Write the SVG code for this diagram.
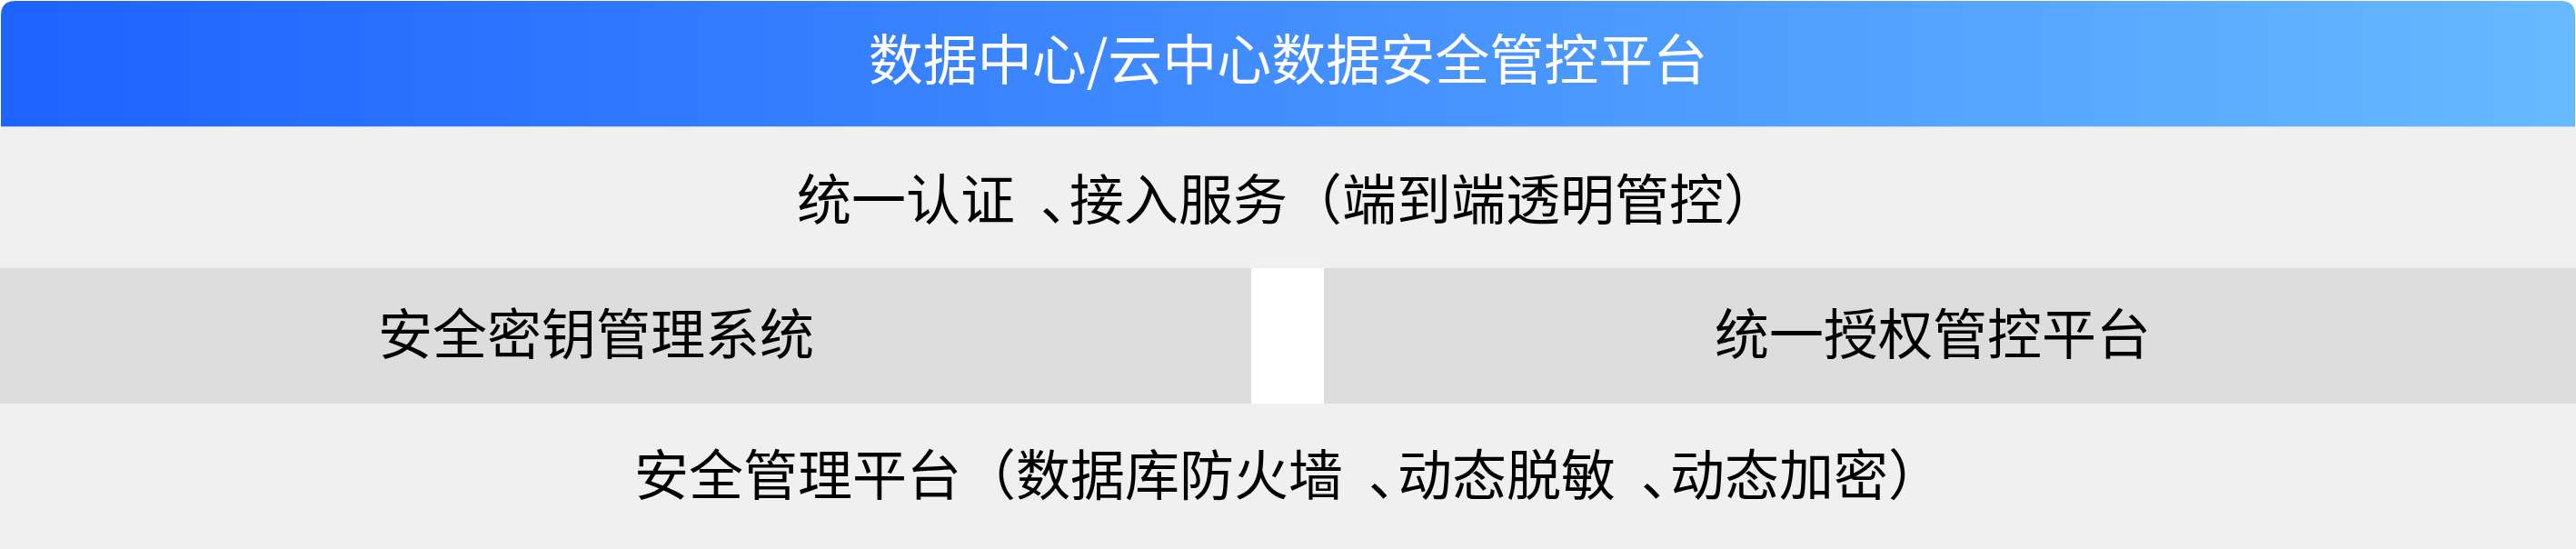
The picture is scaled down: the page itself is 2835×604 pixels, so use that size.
<svg xmlns="http://www.w3.org/2000/svg" width="2835" height="604" viewBox="0 0 2835 604">
  <defs>
    <linearGradient id="hdrGrad" x1="0" y1="0" x2="1" y2="0">
      <stop offset="0" stop-color="#1E63FF"/>
      <stop offset="1" stop-color="#67B9FF"/>
    </linearGradient>
  </defs>
  <style>
    .lbl { font-family: "Noto Sans CJK SC", "Noto Sans", sans-serif; font-size: 60px; text-anchor: middle; fill: #000000; }
    .hdr { fill: #FFFFFF; }
    .light { fill: #F0F0F0; }
    .dark { fill: #DDDDDD; }
  </style>
  <rect x="0" y="0" width="2835" height="604" fill="#FFFFFF"/>

  <g id="header">
    <path d="M1,139 V17 Q1,1 17,1 H2818 Q2834,1 2834,17 V139 Z" fill="url(#hdrGrad)"/>
    <line x1="1" y1="139.5" x2="2834" y2="139.5" stroke="#C9DDF5" stroke-width="1"/>
    <text class="lbl hdr" x="1417.5" y="88">数据中心/云中心数据安全管控平台</text>
  </g>

  <g id="access-service">
    <rect class="light" x="0" y="140" width="2835" height="155"/>
    <text class="lbl" x="1417" y="242" dx="0 0 0 0 28 -28">统一认证、接入服务（端到端透明管控）</text>
  </g>

  <g id="key-management">
    <rect class="dark" x="0" y="295" width="1377" height="149"/>
    <text class="lbl" x="656" y="390">安全密钥管理系统</text>
  </g>

  <g id="authorization-platform">
    <rect class="dark" x="1457" y="295" width="1378" height="149"/>
    <text class="lbl" x="2127" y="390">统一授权管控平台</text>
  </g>

  <g id="security-platform">
    <rect class="light" x="0" y="444" width="2835" height="160"/>
    <text class="lbl" x="1418" y="545" dx="0 0 0 0 0 0 0 0 0 0 0 0 0 28 -28 0 0 0 28 -28">安全管理平台（数据库防火墙、动态脱敏、动态加密）</text>
  </g>
</svg>
